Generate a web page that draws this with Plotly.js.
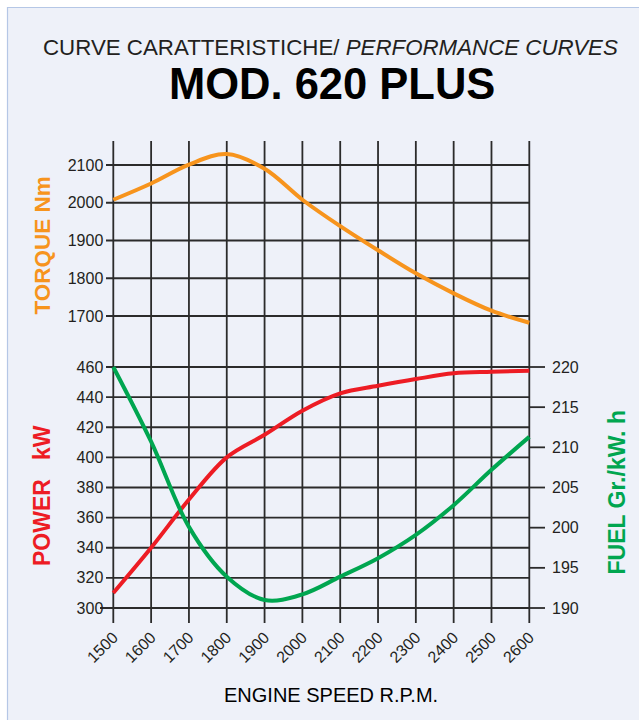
<!DOCTYPE html>
<html><head><meta charset="utf-8">
<script src="https://cdn.plot.ly/plotly-3.0.1.min.js"></script>
<style>html,body{margin:0;padding:0;background:#fff}#chart{width:639px;height:720px}</style>
</head><body><div id="chart"></div>
<script>
// ---- data ----
const rpm = [1500, 1600, 1700, 1800, 1900, 2000, 2100, 2200, 2300, 2400, 2500, 2600];
const torqueNm = [2008, 2051, 2101, 2129, 2090, 2008, 1938, 1874, 1813, 1760, 1714, 1682];
const powerKW = [310, 340, 372, 400, 415, 431, 442.5, 447.5, 452, 455.8, 456.8, 457.5];
const fuelGkWh = [220, 210.7, 200.1, 193.9, 191.0, 191.7, 193.9, 196.2, 199.1, 202.8, 207.2, 211.3];
const rpmTicks = [1500, 1600, 1700, 1800, 1900, 2000, 2100, 2200, 2300, 2400, 2500, 2600];
const torqueTicks = [1700, 1800, 1900, 2000, 2100];
const powerTicks = [300, 320, 340, 360, 380, 400, 420, 440, 460];
const fuelTicks = [190, 195, 200, 205, 210, 215, 220];

// ---- layout helpers (pixel -> paper) ----
const W = 639, H = 720;
const px = v => v / W;
const py = v => 1 - v / H;

const GRID = '#2b2b2b';
const GW = 1.8;
const TXT = '#231f20';
const ORANGE = '#f7941d', RED = '#ed1c24', GREEN = '#00a650';

const shapes = [];
// background panel
shapes.push({type:'rect', xref:'paper', yref:'paper', x0:px(7.5), x1:px(700), y0:py(760), y1:py(7.5),
  fillcolor:'#eef1f9', line:{color:'#b5c7e6', width:1.2}, layer:'below'});
// vertical grid lines
rpmTicks.forEach(r => shapes.push({type:'line', xref:'x', yref:'paper', x0:r, x1:r, y0:py(623), y1:py(141),
  line:{color:GRID, width:GW}, layer:'below'}));
// torque horizontal lines
torqueTicks.forEach(t => shapes.push({type:'line', xref:'paper', yref:'y', x0:px(106), x1:px(529.3), y0:t, y1:t,
  line:{color:GRID, width:GW}, layer:'below'}));
// power horizontal lines
powerTicks.forEach((p, i) => shapes.push({type:'line', xref:'paper', yref:'y2', x0:px(i === 0 ? 100 : 106), x1:px(529.3), y0:p, y1:p,
  line:{color:GRID, width:GW}, layer:'below'}));
// fuel ticks on the right
fuelTicks.forEach(f => shapes.push({type:'line', xref:'paper', yref:'y3', x0:px(529.3), x1:px(545), y0:f, y1:f,
  line:{color:GRID, width:GW}, layer:'below'}));

const traces = [
  {x: rpm, y: torqueNm, xaxis:'x', yaxis:'y', type:'scatter', mode:'lines', line:{color:ORANGE, width:4, shape:'spline'}, name:'Torque'},
  {x: rpm, y: powerKW, xaxis:'x', yaxis:'y2', type:'scatter', mode:'lines', line:{color:RED, width:4, shape:'spline'}, name:'Power'},
  {x: rpm, y: fuelGkWh, xaxis:'x', yaxis:'y3', type:'scatter', mode:'lines', line:{color:GREEN, width:4, shape:'spline'}, name:'Fuel'}
];

const yCommon = {showgrid:false, zeroline:false, showline:false, ticks:'', tickfont:{size:16, color:TXT}, fixedrange:true};

const layout = {
  width: W, height: H,
  margin:{l:0, r:0, t:0, b:0},
  paper_bgcolor:'#ffffff', plot_bgcolor:'rgba(0,0,0,0)',
  showlegend:false,
  font:{family:'"Liberation Sans", Arial, sans-serif', color:TXT},
  xaxis:{domain:[px(105.74), px(536.86)], range:[1480, 2620], anchor:'free', position:py(623),
    tickvals: rpmTicks, tickangle:-45, ticks:'', showgrid:false, zeroline:false, showline:false,
    tickfont:{size:16, color:TXT}, ticklabelstandoff:1, fixedrange:true},
  yaxis:Object.assign({}, yCommon, {domain:[py(338.65), py(142.35)], range:[1640, 2160], anchor:'free', position:px(113.3),
    tickvals: torqueTicks, ticklabelstandoff:10}),
  yaxis2:Object.assign({}, yCommon, {domain:[py(614.025), py(360.975)], range:[296, 464], anchor:'free', position:px(113.3),
    tickvals: powerTicks, ticklabelstandoff:10}),
  yaxis3:Object.assign({}, yCommon, {overlaying:'y2', side:'right', anchor:'free', position:px(545), range:[189.25, 220.75],
    tickvals: fuelTicks, ticklabelstandoff:6}),
  shapes: shapes,
  annotations:[
    {xref:'paper', yref:'paper', x:px(330), y:py(47.2), showarrow:false, xanchor:'center', yanchor:'middle',
      text:'CURVE CARATTERISTICHE/ <i>PERFORMANCE CURVES</i>', font:{size:22.3, color:TXT}},
    {xref:'paper', yref:'paper', x:px(331.5), y:py(84.2), showarrow:false, xanchor:'center', yanchor:'middle',
      text:'<b>MOD. 620 PLUS</b>', font:{size:43.5, color:'#000000'}},
    {xref:'paper', yref:'paper', x:px(41.5), y:py(245), showarrow:false, xanchor:'center', yanchor:'middle', textangle:-90,
      text:'<b>TORQUE Nm</b>', font:{size:22.5, color:ORANGE}},
    {xref:'paper', yref:'paper', x:px(41.5), y:py(495.5), showarrow:false, xanchor:'center', yanchor:'middle', textangle:-90,
      text:'<b>POWER\u00a0\u00a0\u00a0kW</b>', font:{size:23, color:RED}},
    {xref:'paper', yref:'paper', x:px(616), y:py(492.5), showarrow:false, xanchor:'center', yanchor:'middle', textangle:-90,
      text:'<b>FUEL Gr./kW. h</b>', font:{size:23, color:GREEN}},
    {xref:'paper', yref:'paper', x:px(330.5), y:py(694.5), showarrow:false, xanchor:'center', yanchor:'middle',
      text:'ENGINE SPEED R.P.M.', font:{size:20, color:'#000000'}}
  ]
};

Plotly.newPlot('chart', traces, layout, {displayModeBar:false, staticPlot:true});
</script>
</body></html>
